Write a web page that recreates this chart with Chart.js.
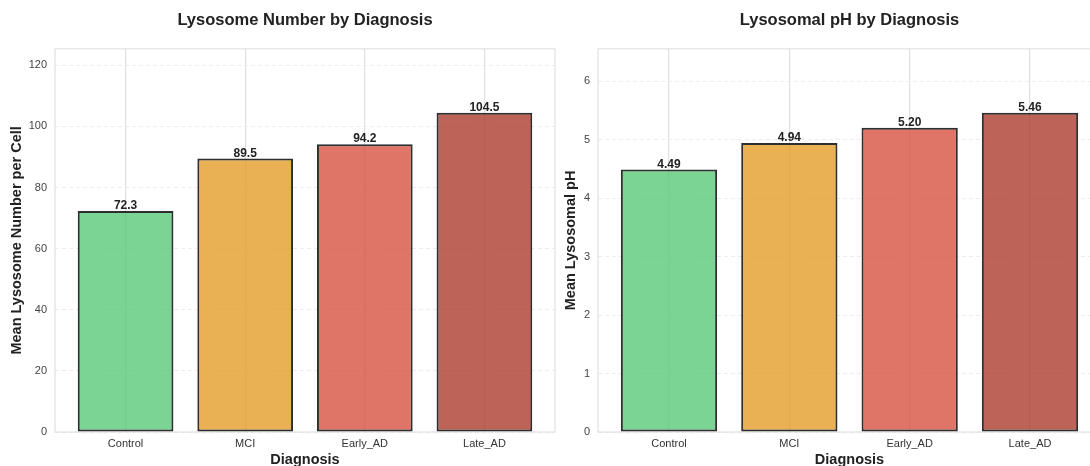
<!DOCTYPE html>
<html>
<head>
<meta charset="utf-8">
<script src="https://cdn.jsdelivr.net/npm/chart.js@4/dist/chart.umd.min.js"></script>
<style>
  html, body { margin: 0; padding: 0; background: #fff; }
  #wrap { position: relative; width: 1090px; height: 466px; overflow: hidden; }
  #leftBox { position: absolute; left: 0; top: 0; width: 562px; height: 470px; }
  #rightBox { position: absolute; left: 560px; top: 0; width: 548px; height: 470px; }
</style>
</head>
<body>
<div id="wrap">
  <div id="leftBox"><canvas id="numberChart" width="562" height="470"></canvas></div>
  <div id="rightBox"><canvas id="phChart" width="548" height="470"></canvas></div>
</div>
<script>
const categories = ["Control", "MCI", "Early_AD", "Late_AD"];
const lysosomeNumber = [72.3, 89.5, 94.2, 104.5];
const lysosomalPH = [4.49, 4.94, 5.20, 5.46];
const numberTicks = [0, 20, 40, 60, 80, 100, 120];
const phTicks = [0, 1, 2, 3, 4, 5, 6];

const barColors = [
  "rgba(90, 201, 121, 0.8)",
  "rgba(229, 158, 41, 0.8)",
  "rgba(215, 82, 64, 0.8)",
  "rgba(174, 60, 46, 0.8)"
];

const fontFamily = "'Liberation Sans', Arial, Helvetica, sans-serif";

// light box round the plot area, like the matplotlib spines
const framePlugin = {
  id: "frame",
  beforeDatasetsDraw(chart) {
    const { ctx, chartArea: a } = chart;
    ctx.save();
    ctx.strokeStyle = "#e2e2e2";
    ctx.lineWidth = 1.2;
    ctx.strokeRect(a.left, a.top, a.right - a.left, a.bottom - a.top);
    ctx.restore();
  }
};

// numbers written above each bar
const valueLabels = {
  id: "valueLabels",
  afterDatasetsDraw(chart, args, opts) {
    const { ctx } = chart;
    const meta = chart.getDatasetMeta(0);
    ctx.save();
    ctx.font = "bold 12px " + fontFamily;
    ctx.fillStyle = "#222";
    ctx.textAlign = "center";
    ctx.textBaseline = "bottom";
    meta.data.forEach((bar, i) => {
      const v = chart.data.datasets[0].data[i].y;
      ctx.fillText(v.toFixed(opts.decimals), bar.x, bar.y + 1);
    });
    ctx.restore();
  }
};

function makeChart(id, values, ticks, yMax, decimals, title, yTitle, yWidth, yTitlePad, rightPad) {
  const ctx = document.getElementById(id).getContext("2d");
  return new Chart(ctx, {
    type: "bar",
    data: {
      datasets: [{
        data: values.map((v, i) => ({ x: i, y: v })),
        backgroundColor: barColors,
        borderColor: "rgba(35, 35, 35, 0.95)",
        borderWidth: 2,
        borderSkipped: false,
        barPercentage: 1,
        categoryPercentage: 0.8
      }]
    },
    options: {
      responsive: false,
      animation: false,
      layout: { padding: { left: 0, right: rightPad, top: 0, bottom: 0 } },
      plugins: {
        legend: { display: false },
        tooltip: { enabled: false },
        title: {
          display: true,
          text: title,
          fullSize: false,
          color: "#222",
          font: { family: fontFamily, size: 16.5, weight: "bold" },
          padding: { top: 11, bottom: 18 }
        },
        valueLabels: { decimals: decimals }
      },
      scales: {
        x: {
          type: "linear",
          min: -0.59,
          max: categories.length - 1 + 0.59,
          offset: false,
          afterBuildTicks: s => { s.ticks = categories.map((c, i) => ({ value: i })); },
          afterFit: s => { s.height = 38; },
          ticks: {
            callback: v => categories[v],
            color: "#333",
            padding: 5,
            maxRotation: 0,
            font: { family: fontFamily, size: 11 }
          },
          grid: { color: "#e0e0e0", lineWidth: 1.2, drawTicks: false, offset: false },
          border: { display: false },
          title: {
            display: true,
            text: "Diagnosis",
            color: "#222",
            font: { family: fontFamily, size: 14.5, weight: "bold" },
            padding: { top: 0, bottom: 1.5 }
          }
        },
        y: {
          min: 0,
          max: yMax,
          afterBuildTicks: s => { s.ticks = ticks.map(t => ({ value: t })); },
          afterFit: s => { s.width = yWidth; },
          ticks: {
            color: "#444",
            padding: 8,
            font: { family: fontFamily, size: 11 }
          },
          grid: { color: "#ececec", lineWidth: 1, drawTicks: false },
          border: { display: false, dash: [4, 3] },
          title: {
            display: true,
            text: yTitle,
            color: "#222",
            font: { family: fontFamily, size: 14.5, weight: "bold" },
            padding: { top: yTitlePad, bottom: 0 }
          }
        }
      }
    },
    plugins: [framePlugin, valueLabels]
  });
}

makeChart("numberChart", lysosomeNumber, numberTicks, 125.4, 1,
  "Lysosome Number by Diagnosis", "Mean Lysosome Number per Cell", 55, 8.3, 7);
makeChart("phChart", lysosomalPH, phTicks, 6.552, 2,
  "Lysosomal pH by Diagnosis", "Mean Lysosomal pH", 38, 2.3, 7);
</script>
</body>
</html>
